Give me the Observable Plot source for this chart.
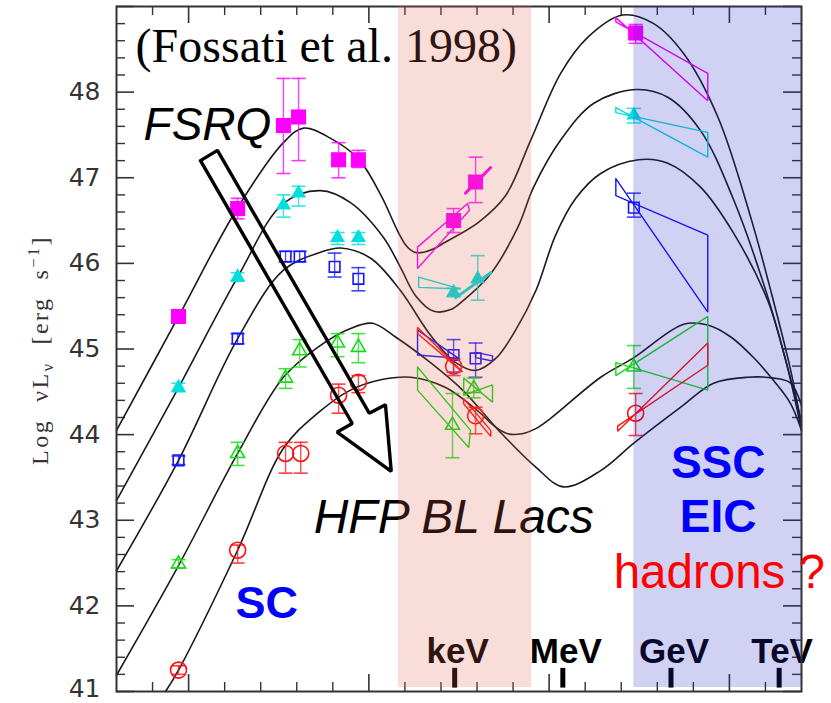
<!DOCTYPE html>
<html><head><meta charset="utf-8">
<script src="https://cdn.jsdelivr.net/npm/d3@7"></script>
<script src="https://cdn.jsdelivr.net/npm/@observablehq/plot@0.6"></script>
<style>body{margin:0;background:#fff;} #chart{width:831px;height:703px;}</style>
</head><body><div id="chart"></div>
<script>
// ---------- data (log nu [Hz], log nuL_nu [erg/s]) ----------
// magenta filled squares (FSRQ bin 1)
const nuM = [9.72, 11.36, 12.63, 13.05, 14.16, 14.71, 17.35, 17.96, 22.40];
const LM  = [45.38, 46.64, 47.61, 47.71, 47.21, 47.21, 46.50, 46.95, 48.69];
const loM = [45.33, 46.52, 47.05, 47.20, 47.00, 47.12, 46.36, 46.71, 48.57];
const hiM = [45.43, 46.76, 48.16, 48.16, 47.41, 47.32, 46.64, 47.24, 48.79];
// cyan filled triangles
const nuC = [9.72, 11.36, 12.63, 13.05, 14.13, 14.71, 17.35, 18.02, 22.35];
const LC  = [44.55, 45.84, 46.68, 46.82, 46.30, 46.30, 45.66, 45.82, 47.73];
const loC = [44.50, 45.79, 46.54, 46.67, 46.22, 46.22, 45.61, 45.57, 47.64];
const hiC = [44.60, 45.89, 46.80, 46.90, 46.36, 46.36, 45.71, 46.09, 47.81];
// blue open squares
const nuB = [9.72, 11.36, 12.69, 13.08, 14.05, 14.71, 17.35, 17.96, 22.35];
const LB  = [43.70, 45.12, 46.08, 46.08, 45.96, 45.82, 44.93, 44.89, 46.65];
const loB = [43.65, 45.06, 46.02, 46.02, 45.84, 45.68, 44.73, 44.67, 46.54];
const hiB = [43.75, 45.18, 46.14, 46.14, 46.12, 45.95, 45.11, 45.07, 46.82];
// green open triangles
const nuG = [9.72, 11.36, 12.69, 13.08, 14.13, 14.71, 17.32, 17.91, 22.35];
const LG  = [42.49, 43.78, 44.66, 44.98, 45.07, 45.02, 44.11, 44.54, 44.79];
const loG = [42.44, 43.64, 44.54, 44.79, 44.91, 44.84, 43.73, 44.43, 44.54];
const hiG = [42.54, 43.91, 44.77, 45.11, 45.18, 45.18, 44.48, 44.66, 45.04];
// red open circles
const nuR = [9.72, 11.36, 12.69, 13.11, 14.16, 14.71, 17.35, 17.96, 22.40];
const LR  = [41.25, 42.65, 43.78, 43.78, 44.46, 44.61, 44.80, 44.22, 44.25];
const loR = [41.20, 42.50, 43.55, 43.55, 44.25, 44.49, 44.69, 44.01, 43.99];
const hiR = [41.30, 42.71, 43.91, 43.91, 44.59, 44.69, 44.88, 44.32, 44.48];

// bow-ties (X-ray and gamma-ray spectral ranges)
const bowM_g = [[21.85,48.87],[24.40,47.90],[24.40,48.22],[21.85,48.82],[21.85,48.87]];
const bowC_g = [[21.85,47.82],[24.40,47.24],[24.40,47.53],[21.85,47.76],[21.85,47.82]];
const bowB_g = [[21.85,46.99],[24.40,45.43],[24.40,46.33],[21.85,46.79],[21.85,46.99]];
const bowG_g = [[21.85,44.84],[24.40,44.52],[24.40,45.38],[21.85,44.69],[21.85,44.84]];
const bowR_g = [[21.90,44.10],[24.40,44.81],[24.40,45.07],[21.90,44.04],[21.90,44.10]];
const bowM_x = [[16.35,46.19],[17.74,46.70],[17.79,46.62],[16.35,45.94],[16.35,46.19]];
const bowM_x2 = [[17.68,46.82],[18.38,47.12]];
const bowC_x = [[16.38,45.84],[17.55,45.70],[16.38,45.72],[16.38,45.84]];
const bowC_x2 = [[17.41,45.60],[18.38,45.89]];
const bowB_x = [[16.35,45.22],[17.49,44.89],[16.35,44.93],[16.35,45.22]];
const bowB_x2 = [[17.96,44.96],[18.43,44.92],[18.43,44.86],[17.96,44.90],[17.96,44.96]];
const bowR_x = [[16.35,45.25],[17.60,44.73],[16.35,45.18],[16.35,45.25]];
const bowR_x2 = [[17.63,44.42],[18.38,44.05],[18.38,43.98],[17.63,44.36],[17.63,44.42]];
const bowG_x = [[16.35,44.79],[17.82,44.05],[17.77,43.85],[16.35,44.52],[16.35,44.79]];
const bowG_x2 = [[17.63,44.66],[18.43,44.38],[18.43,44.58],[17.63,44.46],[17.63,44.66]];

// model SED curves
const curve1 = [[8.00,44.05],[9.72,45.38],[11.36,46.65],[12.63,47.41],[13.19,47.58],[13.94,47.46],[14.71,47.22],[15.33,46.80],[15.82,46.36],[16.05,46.20],[16.27,46.13],[16.52,46.13],[16.80,46.17],[17.13,46.25],[18.04,46.48],[18.79,46.79],[19.49,47.44],[20.32,48.22],[21.07,48.64],[22.04,48.90],[22.90,48.80],[23.73,48.45],[24.68,47.71],[25.59,46.54],[26.29,45.45],[26.70,44.75],[27.00,44.11]];
const curve2 = [[8.00,43.23],[9.72,44.55],[11.36,45.84],[12.63,46.70],[13.66,46.85],[14.49,46.71],[15.41,46.30],[15.88,45.95],[16.30,45.62],[16.80,45.44],[17.27,45.46],[17.60,45.56],[18.38,45.88],[19.13,46.42],[19.57,46.89],[20.32,47.44],[21.24,47.87],[22.40,48.03],[23.29,47.94],[24.20,47.55],[25.12,46.74],[26.01,45.68],[26.56,44.87],[27.00,44.15]];
const curve3 = [[8.00,42.41],[9.72,43.70],[11.36,45.12],[12.63,45.92],[13.66,46.13],[14.22,46.18],[15.05,46.06],[15.88,45.68],[16.71,45.16],[17.41,44.84],[17.96,44.75],[18.52,44.89],[19.07,45.22],[19.63,45.68],[20.18,46.33],[20.74,46.76],[21.43,47.05],[22.48,47.21],[23.29,47.17],[24.20,46.89],[25.12,46.35],[26.06,45.57],[26.56,44.87],[27.00,44.05]];
const curve4 = [[8.00,41.19],[9.72,42.47],[11.36,43.78],[12.63,44.67],[13.58,45.02],[14.49,45.24],[15.10,45.30],[15.74,45.14],[16.71,44.84],[17.60,44.52],[18.60,44.05],[19.63,43.62],[20.40,43.39],[21.43,43.58],[22.35,43.90],[23.65,44.32],[24.56,44.60],[25.51,44.67],[26.23,44.66],[26.70,44.60],[27.00,44.34]];
const curve5 = [[9.36,41.00],[9.72,41.25],[11.36,42.65],[12.63,43.84],[13.58,44.25],[14.49,44.52],[15.33,44.64],[16.16,44.67],[17.13,44.55],[18.04,44.27],[18.45,44.11],[18.85,44.01],[19.25,44.01],[19.63,44.07],[20.04,44.19],[21.43,44.67],[22.35,44.90],[23.73,45.29],[24.40,45.28],[25.04,45.14],[25.67,44.90],[26.23,44.63],[26.70,44.36],[27.00,44.05]];

// annotation arrow outline (data coords)
const arrow = [[10.33,47.20],[10.80,47.32],[15.01,44.25],[15.46,44.35],[15.62,43.57],[14.12,44.03],[14.54,44.13],[10.33,47.20]];

// shaded bands
const bandStart = [15.82, 22.35];
const bandEnd   = [19.52, 27.0];
const bandColor = ["rgb(222,96,74)", "rgb(40,40,200)"];

// energy markers
const energyNu = [17.38, 20.38, 23.38, 26.38];
const energyLabel = ["keV", "MeV", "GeV", "TeV"];

// axis tick labels
const yTickLabels = [42, 43, 44, 45, 46, 47, 48];
const yBottomLabel = [41];
const xMajor = [10, 15, 20, 25];

// ---------- build ----------
const mk = (nu, L, lo, hi) => nu.map((x, i) => ({nu: x, L: L[i], lo: lo[i], hi: hi[i]}));
const sM = mk(nuM, LM, loM, hiM), sC = mk(nuC, LC, loC, hiC), sB = mk(nuB, LB, loB, hiB),
      sG = mk(nuG, LG, loG, hiG), sR = mk(nuR, LR, loR, hiR);
const bands = bandStart.map((s, i) => ({s, e: bandEnd[i], c: bandColor[i]}));
const energies = energyNu.map((nu, i) => ({nu, label: energyLabel[i]}));

const capSymbol = {draw(ctx, size) { const w = Math.sqrt(size / Math.PI); ctx.moveTo(-w, 0); ctx.lineTo(w, 0); }};

const W = 831, H = 703, ML = 116, MR = 30, MT = 6, MB = 12;
const FW = W - ML - MR, FH = H - MT - MB;

const yMinor = d3.range(41, 49.001, 0.2).map(v => +v.toFixed(1)).filter(v => Math.abs(v - Math.round(v)) > 1e-6);
const yMaj = d3.range(41, 50);
const xMinor = d3.range(9, 27).filter(v => v % 5 !== 0);

function series(data, color, symbol, r, filled) {
  return [
    Plot.ruleX(data, {x: "nu", y1: "lo", y2: "hi", stroke: color, strokeWidth: 1.4, strokeOpacity: 0.75}),
    Plot.dot(data, {x: "nu", y: "lo", symbol: capSymbol, r: 7, stroke: color, strokeWidth: 1.6, strokeOpacity: 0.8}),
    Plot.dot(data, {x: "nu", y: "hi", symbol: capSymbol, r: 7, stroke: color, strokeWidth: 1.6, strokeOpacity: 0.8}),
    Plot.dot(data, {x: "nu", y: "L", symbol, r,
      fill: filled ? color : "none", stroke: filled ? "none" : color, strokeWidth: 1.6})
  ];
}
const bow = (pts, color, w = 1.4) => Plot.line(pts, {stroke: color, strokeWidth: w, strokeLinejoin: "miter"});

const cM = "#ff00ff", cC = "#00dede", cB = "#1414ff", cG = "#14dc14", cR = "#ff1010";

const svg = Plot.plot({
  width: W, height: H,
  marginLeft: ML, marginRight: MR, marginTop: MT, marginBottom: MB,
  x: {domain: [8, 27], axis: null},
  y: {domain: [41, 49], axis: null},
  style: {background: "white", fontFamily: "Liberation Sans, Arial, sans-serif"},
  marks: [
    // inward ticks
    Plot.tickY(yMaj, {y: d => d, insetRight: FW - 18, stroke: "#333", strokeWidth: 1.6}),
    Plot.tickY(yMinor, {y: d => d, insetRight: FW - 9, stroke: "#333", strokeWidth: 1.4}),
    Plot.tickY(yMaj, {y: d => d, insetLeft: FW - 18, stroke: "#333", strokeWidth: 1.6}),
    Plot.tickY(yMinor, {y: d => d, insetLeft: FW - 9, stroke: "#333", strokeWidth: 1.4}),
    Plot.tickX(xMajor, {x: d => d, insetBottom: FH - 17, stroke: "#333", strokeWidth: 1.6}),
    Plot.tickX(xMinor, {x: d => d, insetBottom: FH - 9, stroke: "#333", strokeWidth: 1.4}),
    Plot.tickX(xMajor, {x: d => d, insetTop: FH - 17, stroke: "#333", strokeWidth: 1.6}),
    Plot.tickX(xMinor, {x: d => d, insetTop: FH - 9, stroke: "#333", strokeWidth: 1.4}),
    // model curves
    ...[curve1, curve2, curve3, curve4, curve5].map(c =>
      Plot.line(c, {curve: "catmull-rom", stroke: "#1a1a1a", strokeWidth: 1.6})),
    // data
    ...series(sM, cM, "square", 8.5, true),
    ...series(sC, cC, "triangle", 5.6, true),
    ...series(sB, cB, "square", 6, false),
    ...series(sG, cG, "triangle", 5.2, false),
    ...series(sR, cR, "circle", 8, false),
    bow(bowM_g, cM), bow(bowC_g, cC), bow(bowB_g, cB), bow(bowG_g, cG), bow(bowR_g, cR),
    bow(bowM_x, cM), bow(bowM_x2, cM, 3), bow(bowC_x, cC), bow(bowC_x2, cC, 3),
    bow(bowB_x, cB), bow(bowB_x2, cB), bow(bowR_x, cR), bow(bowR_x2, cR), bow(bowG_x, cG), bow(bowG_x2, cG),
    // arrow
    Plot.line(arrow, {stroke: "black", strokeWidth: 3.4, strokeLinejoin: "miter"}),
    // texts under the shading
    Plot.text(["(Fossati et al. 1998)"], {x: 8.53, y: 48.35, text: d => d, textAnchor: "start", lineAnchor: "bottom",
      fontSize: 48, fontFamily: "Liberation Serif, Times New Roman, serif", fill: "black"}),
    Plot.text(["FSRQ"], {x: 8.75, y: 47.44, text: d => d, textAnchor: "start", lineAnchor: "bottom",
      fontSize: 46, fontStyle: "italic", fill: "black"}),
    Plot.text(["HFP BL Lacs"], {x: 13.47, y: 42.85, text: d => d, textAnchor: "start", lineAnchor: "bottom",
      fontSize: 48, fontStyle: "italic", fill: "black"}),
    Plot.text(["SC"], {x: 11.30, y: 41.86, text: d => d, textAnchor: "start", lineAnchor: "bottom",
      fontSize: 45, fontWeight: "bold", fill: "#0000ff"}),
    Plot.ruleX(energies, {x: "nu", y1: 41.04, y2: 41.27, stroke: "black", strokeWidth: 5}),
    Plot.text(energies, {x: "nu", y: 41.33, text: "label", dx: 3, textAnchor: "middle", lineAnchor: "bottom",
      fontSize: 35, fontWeight: "bold", fill: "black"}),
    Plot.frame({stroke: "#333", strokeWidth: 2}),
    // shaded bands
    Plot.rect(bands, {x1: "s", x2: "e", fill: "c", fillOpacity: 0.21, insetBottom: 4}),
    // texts on top
    Plot.text(["SSC"], {x: 24.69, y: 43.49, text: d => d, textAnchor: "middle", lineAnchor: "bottom",
      fontSize: 46, fontWeight: "bold", fill: "#0000ff"}),
    Plot.text(["EIC"], {x: 24.69, y: 42.86, text: d => d, textAnchor: "middle", lineAnchor: "bottom",
      fontSize: 46, fontWeight: "bold", fill: "#0000ff"}),
    Plot.text(["hadrons ?"], {x: 21.79, y: 42.21, text: d => d, textAnchor: "start", lineAnchor: "bottom",
      fontSize: 47.5, fill: "#ff0000"}),
    // y tick labels
    Plot.text(yTickLabels, {x: 8, y: d => d, text: d => String(d), dx: -16, textAnchor: "end",
      fontSize: 25, fontFamily: "DejaVu Sans, sans-serif", fill: "#333"}),
    Plot.text(yBottomLabel, {x: 8, y: d => d, text: d => String(d), dx: -16, dy: -3, textAnchor: "end",
      fontSize: 25, fontFamily: "DejaVu Sans, sans-serif", fill: "#333"})
  ]
});
document.getElementById("chart").appendChild(svg);

// y-axis title with sub/superscripts
const t = d3.select(svg).append("text")
  .attr("transform", "translate(48,350) rotate(-90)")
  .attr("text-anchor", "middle")
  .attr("font-family", "Liberation Serif, Times New Roman, serif")
  .attr("font-size", 24).attr("fill", "#333")
  .style("white-space", "pre").style("letter-spacing", "2.5px");
t.append("tspan").text("Log  \u03bdL");
t.append("tspan").attr("font-size", 16).attr("dy", 5).text("\u03bd");
t.append("tspan").attr("dy", -5).text("  [erg  s");
t.append("tspan").attr("font-size", 16).attr("dy", -9).text("\u22121");
t.append("tspan").attr("dy", 9).text("]");
</script></body></html>
